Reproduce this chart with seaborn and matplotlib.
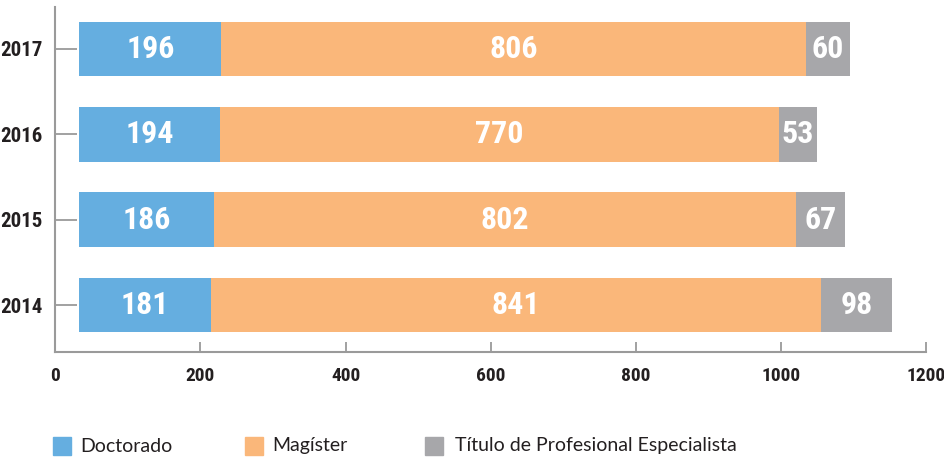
import matplotlib
matplotlib.use("Agg")
import matplotlib.pyplot as plt
from matplotlib.patches import Rectangle
from matplotlib import font_manager
import seaborn as sns
import pandas as pd
import numpy as np

years = ["2017", "2016", "2015", "2014"]
doctorado = [196, 194, 186, 181]
magister = [806, 770, 802, 841]
titulo = [60, 53, 67, 98]
series_names = ["Doctorado", "Magíster", "Título de Profesional Especialista"]
bar_start = 33  # bars in the original start slightly right of zero
x_ticks = [0, 200, 400, 600, 800, 1000, 1200]

colors = {"Doctorado": "#65AEE0", "Magíster": "#FAB77A",
          "Título de Profesional Especialista": "#A7A7AA", "blank": "#FFFFFF"}

sns.set_theme(style="white")
installed = {f.name for f in font_manager.fontManager.ttflist}
cond_candidates = ["Roboto Condensed", "Liberation Sans Narrow", "Open Sans Condensed",
                   "Noto Sans Condensed", "DejaVu Sans"]
cond = [f for f in cond_candidates if f in installed] or ["DejaVu Sans"]
text_color = "#231F20"

d = np.array(doctorado); m = np.array(magister); t = np.array(titulo)
ends = {
    "Título de Profesional Especialista": bar_start + d + m + t,
    "Magíster": bar_start + d + m,
    "Doctorado": bar_start + d,
    "blank": np.full(len(years), bar_start),
}
rows = []
for s in ["Título de Profesional Especialista", "Magíster", "Doctorado", "blank"]:
    for y, v in zip(years, ends[s]):
        rows.append({"year": y, "series": s, "end": v})
df = pd.DataFrame(rows)

fig = plt.figure(figsize=(9.45, 4.57), dpi=100)
ax = fig.add_axes([55.3 / 945, 1 - 352 / 457, (926 - 55.3) / 945, (352 - 7) / 457])

sns.barplot(data=df, y="year", x="end", hue="series", order=years,
            hue_order=["Título de Profesional Especialista", "Magíster", "Doctorado", "blank"],
            palette=colors, dodge=False, orient="h", width=0.64,
            linewidth=0, errorbar=None, legend=False, ax=ax, saturation=1)
ax.set_axisbelow(False)

for i, yr in enumerate(years):
    starts = [bar_start, bar_start + d[i], bar_start + d[i] + m[i]]
    vals = [d[i], m[i], t[i]]
    for s0, v in zip(starts, vals):
        ax.text(s0 + v / 2, i, str(v), ha="center", va="center", color="white",
                fontsize=23, fontweight="bold", family=cond, fontstretch="condensed")

ax.set_xlim(0, 1200)
ax.set_ylim(3.55, -0.49)
ax.set_xticks(x_ticks)
ax.set_xticklabels([str(v) for v in x_ticks])
ax.set_xlabel("")
ax.set_ylabel("")
for sp in ["top", "right"]:
    ax.spines[sp].set_visible(False)
for sp in ["left", "bottom"]:
    ax.spines[sp].set_color("#9A9A9A")
    ax.spines[sp].set_linewidth(1.5)
ax.tick_params(axis="x", direction="in", length=7, width=1.3, color="#9A9A9A",
               pad=11, labelsize=14, labelcolor=text_color, bottom=True)
ax.tick_params(axis="y", direction="in", length=16, width=1.3, color="#9A9A9A",
               pad=9, labelsize=15, labelcolor=text_color, left=True)
for lab in ax.get_xticklabels() + ax.get_yticklabels():
    lab.set_family(cond)
    lab.set_fontweight("bold")
    lab.set_fontstretch("condensed")

leg_font = ["Lato", "DejaVu Sans"]
for name, xs, xt in [("Doctorado", 53, 80), ("Magíster", 245, 272),
                     ("Título de Profesional Especialista", 425, 455)]:
    fig.patches.append(Rectangle((xs / 945, 1 - 455 / 457), 18 / 945, 18 / 457,
                                 transform=fig.transFigure, color=colors[name]))
    fig.text(xt / 945, 1 - 446 / 457, name, ha="left", va="center",
             fontsize=14, color=text_color, family=leg_font)

fig.savefig("out.png", dpi=100)
